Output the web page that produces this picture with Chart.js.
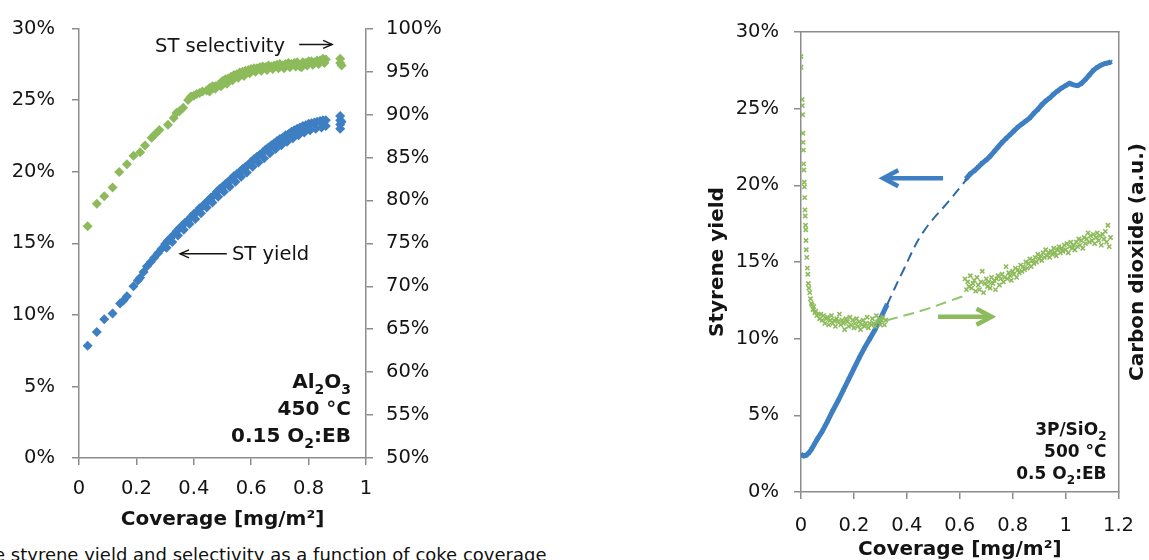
<!DOCTYPE html>
<html>
<head>
<meta charset="utf-8">
<script src="https://cdn.jsdelivr.net/npm/chart.js@4.4.1/dist/chart.umd.min.js"></script>
<style>
  body { margin: 0; background: #fff; width: 1149px; height: 560px; overflow: hidden; position: relative; font-family: 'DejaVu Sans', sans-serif; }
  #chartA { position: absolute; left: 0; top: 0; }
  #chartB { position: absolute; left: 680px; top: 0; }
  #caption { position: absolute; left: -6px; top: 544px; font-size: 18px; color: #111; white-space: nowrap; }
</style>
</head>
<body>
<canvas id="chartA" width="450" height="540"></canvas>
<canvas id="chartB" width="469" height="560"></canvas>
<div id="caption">e styrene yield and selectivity as a function of coke coverage</div>
<script>
// ---- data: Al2O3, 450 °C (coverage mg/m², %)
const yieldAl2O3 = [
  [0.03, 7.85], [0.062, 8.8], [0.088, 9.7], [0.117, 10.1], [0.143, 10.8], [0.155, 11.0], [0.167, 11.3],
  [0.19, 12.0], [0.205, 12.4], [0.213, 12.6], [0.225, 13.0], [0.237, 13.4], [0.25, 13.7], [0.262, 14.0],
  [0.275, 14.3], [0.287, 14.6], [0.30, 14.95], [0.31, 15.2], [0.32, 15.4], [0.33, 15.6], [0.34, 15.85],
  [0.35, 16.05], [0.36, 16.25], [0.37, 16.45], [0.38, 16.6], [0.39, 16.85], [0.40, 17.05], [0.41, 17.2],
  [0.42, 17.45], [0.43, 17.6], [0.44, 17.8], [0.45, 18.0], [0.46, 18.2], [0.47, 18.35], [0.48, 18.6],
  [0.49, 18.8], [0.50, 18.95], [0.51, 19.15], [0.52, 19.3], [0.53, 19.5], [0.54, 19.7], [0.55, 19.85],
  [0.56, 20.0], [0.57, 20.2], [0.58, 20.35], [0.59, 20.5], [0.60, 20.7], [0.61, 20.9], [0.62, 21.05],
  [0.63, 21.2], [0.64, 21.35], [0.65, 21.55], [0.66, 21.7], [0.67, 21.85], [0.68, 22.0], [0.69, 22.15],
  [0.70, 22.3], [0.71, 22.4], [0.72, 22.55], [0.73, 22.65], [0.74, 22.8], [0.75, 22.9], [0.76, 23.0],
  [0.77, 23.1], [0.78, 23.2], [0.79, 23.25], [0.80, 23.35], [0.81, 23.4], [0.82, 23.45], [0.83, 23.5],
  [0.84, 23.55], [0.85, 23.6], [0.86, 23.6], [0.91, 23.9], [0.91, 23.6], [0.91, 23.3], [0.91, 23.0], [0.915, 23.5]
];
// lower edge of the dense yield band
const yieldAl2O3Low = [
  [0.305, 14.7], [0.325, 15.1], [0.345, 15.55], [0.365, 15.95], [0.385, 16.35], [0.405, 16.7], [0.425, 17.1],
  [0.445, 17.5], [0.465, 17.85], [0.485, 18.25], [0.505, 18.6], [0.525, 18.95], [0.545, 19.3], [0.565, 19.65],
  [0.585, 19.95], [0.605, 20.35], [0.625, 20.65], [0.645, 20.95], [0.665, 21.3], [0.685, 21.6], [0.705, 21.85],
  [0.725, 22.1], [0.745, 22.35], [0.765, 22.55], [0.785, 22.75], [0.805, 22.9], [0.825, 23.0], [0.845, 23.1], [0.86, 23.2]
];
const selectAl2O3 = [
  [0.03, 77.0], [0.062, 79.6], [0.088, 80.5], [0.117, 81.5], [0.14, 83.3], [0.167, 84.2], [0.19, 85.2],
  [0.213, 85.6], [0.23, 86.4], [0.253, 87.3], [0.265, 87.7], [0.28, 88.2], [0.31, 88.8], [0.33, 89.6],
  [0.34, 90.2], [0.35, 90.4], [0.363, 90.8], [0.38, 91.7], [0.39, 92.1], [0.40, 92.2], [0.41, 92.4],
  [0.42, 92.5], [0.43, 92.7], [0.445, 92.8], [0.455, 93.1], [0.465, 93.3], [0.475, 93.3], [0.49, 93.6],
  [0.50, 93.9], [0.51, 94.1], [0.52, 94.2], [0.53, 94.4], [0.54, 94.6], [0.55, 94.7], [0.56, 94.9],
  [0.57, 95.0], [0.58, 95.1], [0.59, 95.2], [0.60, 95.3], [0.61, 95.4], [0.62, 95.4], [0.63, 95.5],
  [0.64, 95.6], [0.65, 95.5], [0.66, 95.7], [0.67, 95.6], [0.68, 95.7], [0.69, 95.8], [0.70, 95.9],
  [0.71, 95.7], [0.72, 95.9], [0.73, 96.0], [0.74, 95.9], [0.75, 96.0], [0.76, 96.1], [0.77, 95.6],
  [0.78, 96.1], [0.79, 96.0], [0.80, 96.2], [0.81, 96.2], [0.82, 96.1], [0.83, 96.3], [0.84, 96.3],
  [0.85, 96.5], [0.86, 96.4], [0.91, 96.5], [0.91, 96.0], [0.915, 95.7]
];
// lower edge of the dense selectivity band
const selectAl2O3Low = [
  [0.455, 92.7], [0.475, 93.0], [0.495, 93.3], [0.515, 93.6], [0.535, 94.0], [0.555, 94.3], [0.575, 94.5],
  [0.595, 94.8], [0.615, 95.0], [0.635, 95.1], [0.655, 95.2], [0.675, 95.3], [0.695, 95.4], [0.715, 95.4],
  [0.735, 95.5], [0.755, 95.6], [0.775, 95.5], [0.795, 95.7], [0.815, 95.8], [0.835, 95.9], [0.855, 96.0]
];

// ---- data: 3P/SiO2, 500 °C
const yieldSiO2Early = [
  [0, 2.45], [0.01, 2.35], [0.02, 2.4], [0.03, 2.55], [0.04, 2.8], [0.05, 3.1], [0.06, 3.4], [0.08, 3.95],
  [0.10, 4.6], [0.12, 5.3], [0.14, 5.95], [0.16, 6.65], [0.18, 7.35], [0.20, 8.05], [0.22, 8.75],
  [0.24, 9.4], [0.26, 10.0], [0.28, 10.6], [0.30, 11.3], [0.325, 12.2]
];
const yieldSiO2Gap = [[0.325, 12.2], [0.385, 14.4], [0.46, 16.9], [0.56, 19.0], [0.627, 20.4]];
const yieldSiO2Late = [
  [0.625, 20.45], [0.64, 20.75], [0.655, 20.95], [0.67, 21.2], [0.685, 21.45], [0.70, 21.65], [0.715, 21.9],
  [0.73, 22.2], [0.745, 22.5], [0.76, 22.8], [0.775, 23.05], [0.79, 23.3], [0.805, 23.55], [0.82, 23.8],
  [0.835, 24.0], [0.85, 24.2], [0.865, 24.4], [0.88, 24.7], [0.895, 24.95], [0.91, 25.25], [0.925, 25.5],
  [0.94, 25.7], [0.955, 25.95], [0.97, 26.15], [0.985, 26.35], [1.0, 26.5], [1.015, 26.65], [1.03, 26.55],
  [1.045, 26.5], [1.06, 26.65], [1.075, 26.9], [1.09, 27.2], [1.105, 27.5], [1.12, 27.7], [1.135, 27.85],
  [1.15, 27.95], [1.165, 28.0], [1.17, 28.05]
];
const co2SiO2Early = [
  [0, 28.4], [0, 27.7], [0.004, 25.6], [0.005, 25.2], [0.006, 24.6], [0.007, 23.4], [0.008, 22.8], [0.009, 22.3],
  [0.01, 21.4], [0.011, 21.0], [0.012, 20.2], [0.013, 19.9], [0.014, 19.2], [0.015, 18.4], [0.016, 18.0],
  [0.017, 17.4], [0.018, 17.1], [0.019, 16.4], [0.02, 15.8], [0.022, 15.3], [0.024, 14.6], [0.026, 14.2],
  [0.028, 13.6], [0.03, 13.3], [0.033, 13.0], [0.036, 12.6], [0.039, 12.3], [0.042, 12.2], [0.045, 11.9],
  [0.048, 12.1], [0.052, 11.7], [0.056, 11.8], [0.06, 11.5], [0.065, 11.6], [0.07, 11.3], [0.075, 11.6],
  [0.08, 11.2], [0.085, 11.5], [0.09, 11.0], [0.095, 11.3], [0.1, 11.4], [0.105, 10.9], [0.11, 11.2],
  [0.115, 11.5], [0.12, 11.0], [0.125, 11.2], [0.13, 10.8], [0.135, 11.3], [0.14, 11.1], [0.145, 11.6],
  [0.15, 10.9], [0.155, 11.2], [0.16, 11.0], [0.165, 10.6], [0.17, 11.3], [0.175, 11.1], [0.18, 10.8],
  [0.185, 11.4], [0.19, 10.9], [0.195, 11.2], [0.2, 10.7], [0.205, 11.0], [0.21, 11.3], [0.215, 10.8],
  [0.22, 11.1], [0.225, 10.6], [0.23, 10.9], [0.235, 11.2], [0.24, 10.8], [0.245, 11.0], [0.25, 11.4],
  [0.255, 10.7], [0.26, 11.0], [0.265, 10.9], [0.27, 11.3], [0.275, 11.0], [0.28, 10.8], [0.285, 11.5],
  [0.29, 11.1], [0.295, 11.3], [0.3, 10.9], [0.305, 11.2], [0.31, 11.4], [0.315, 10.9], [0.32, 11.2]
];
const co2SiO2Gap = [[0.325, 11.2], [0.46, 11.85], [0.56, 12.45], [0.627, 12.85]];
const co2SiO2Late = [
  [0.62, 13.9], [0.625, 13.2], [0.63, 13.7], [0.635, 13.4], [0.64, 14.1], [0.645, 13.3], [0.65, 13.6],
  [0.655, 13.8], [0.66, 13.1], [0.665, 14.0], [0.67, 13.5], [0.675, 13.2], [0.68, 13.7], [0.685, 14.4],
  [0.69, 13.0], [0.695, 13.6], [0.70, 13.9], [0.705, 13.4], [0.71, 13.7], [0.715, 13.3], [0.72, 14.0],
  [0.725, 13.6], [0.73, 13.8], [0.735, 13.2], [0.74, 13.9], [0.745, 14.1], [0.75, 13.5], [0.755, 13.9],
  [0.76, 14.2], [0.765, 13.7], [0.77, 14.0], [0.775, 14.7], [0.78, 13.9], [0.785, 14.3], [0.79, 14.1],
  [0.795, 13.8], [0.80, 14.4], [0.805, 14.2], [0.81, 14.6], [0.815, 14.0], [0.82, 14.5], [0.825, 14.3],
  [0.83, 14.8], [0.835, 14.4], [0.84, 14.7], [0.845, 14.5], [0.85, 15.0], [0.855, 14.6], [0.86, 14.9],
  [0.865, 15.2], [0.87, 14.7], [0.875, 15.1], [0.88, 14.9], [0.885, 15.3], [0.89, 15.0], [0.895, 15.5],
  [0.90, 15.2], [0.905, 15.4], [0.91, 15.1], [0.915, 15.6], [0.92, 15.3], [0.925, 15.8], [0.93, 15.4],
  [0.935, 15.6], [0.94, 15.3], [0.945, 15.7], [0.95, 15.5], [0.955, 15.9], [0.96, 15.6], [0.965, 15.4],
  [0.97, 15.8], [0.975, 16.0], [0.98, 15.6], [0.985, 15.9], [0.99, 15.7], [0.995, 16.1], [1.0, 15.8],
  [1.005, 16.2], [1.01, 15.6], [1.015, 16.0], [1.02, 16.3], [1.025, 15.9], [1.03, 16.1], [1.035, 15.8],
  [1.04, 16.3], [1.045, 16.0], [1.05, 16.5], [1.055, 16.1], [1.06, 16.4], [1.065, 15.9], [1.07, 16.6],
  [1.075, 16.2], [1.08, 16.5], [1.085, 16.9], [1.09, 16.3], [1.095, 16.7], [1.10, 16.4], [1.105, 16.8],
  [1.11, 16.2], [1.115, 16.6], [1.12, 16.9], [1.125, 16.4], [1.13, 16.7], [1.135, 16.1], [1.14, 16.8],
  [1.145, 16.5], [1.15, 17.0], [1.155, 16.3], [1.16, 17.4], [1.165, 16.0], [1.17, 16.6]
];

const BLUE = '#3d7fc2';
const GREEN = '#8dbb5b';
const GRAY = '#8c8c8c';
const INK = '#141414';

Chart.defaults.font.family = "'DejaVu Sans', sans-serif";
Chart.defaults.color = INK;

const pts = arr => arr.map(([x, y]) => ({ x, y }));
const pct = v => v + '%';
const plain = v => String(Number(v.toFixed(1)));

// draws text runs with optional subscripts, right aligned at xr
function drawRuns(ctx, runs, xr, y, size) {
  const big = 'bold ' + size + 'px "DejaVu Sans"';
  const small = 'bold ' + Math.round(size * 0.68) + 'px "DejaVu Sans"';
  let w = 0;
  runs.forEach(r => { ctx.font = r.sub ? small : big; w += ctx.measureText(r.t).width; });
  let x = xr - w;
  ctx.textAlign = 'left';
  ctx.textBaseline = 'alphabetic';
  runs.forEach(r => {
    ctx.font = r.sub ? small : big;
    ctx.fillText(r.t, x, r.sub ? y + size * 0.3 : y);
    x += ctx.measureText(r.t).width;
  });
}

function drawArrow(ctx, x1, x2, y, color, width, head, spread) {
  const dir = x2 > x1 ? 1 : -1;
  ctx.save();
  ctx.strokeStyle = color;
  ctx.lineWidth = width;
  ctx.lineCap = 'butt';
  ctx.beginPath();
  ctx.moveTo(x1, y);
  ctx.lineTo(x2, y);
  ctx.stroke();
  ctx.lineJoin = 'miter';
  ctx.beginPath();
  ctx.moveTo(x2 - dir * head, y - spread);
  ctx.lineTo(x2, y);
  ctx.lineTo(x2 - dir * head, y + spread);
  ctx.stroke();
  ctx.restore();
}

const notesPlugin = {
  id: 'notes',
  afterDatasetsDraw(chart, args, opts) {
    const { ctx, chartArea } = chart;
    const sx = chart.scales.x, sy = chart.scales.y;
    ctx.save();
    ctx.fillStyle = INK;
    (opts.texts || []).forEach(t => {
      ctx.font = t.size + 'px "DejaVu Sans"';
      ctx.textAlign = 'left';
      ctx.textBaseline = 'middle';
      ctx.fillText(t.text, sx.getPixelForValue(t.x), sy.getPixelForValue(t.y));
    });
    (opts.arrows || []).forEach(a => {
      drawArrow(ctx, sx.getPixelForValue(a.x1), sx.getPixelForValue(a.x2), sy.getPixelForValue(a.y),
        a.color, a.width, a.head, a.spread);
    });
    ctx.fillStyle = INK;
    (opts.block || []).forEach(line => {
      drawRuns(ctx, line.runs, chartArea.right - opts.blockInset, chartArea.bottom - line.up, opts.blockSize);
    });
    if (opts.rightTitle) {
      ctx.save();
      ctx.translate(chart.width - 11, (chartArea.top + chartArea.bottom) / 2);
      ctx.rotate(-Math.PI / 2);
      ctx.font = 'bold 20px "DejaVu Sans"';
      ctx.textAlign = 'center';
      ctx.textBaseline = 'middle';
      ctx.fillText(opts.rightTitle, 0, 0);
      ctx.restore();
    }
    ctx.restore();
  }
};

function axisGrid(ticks) {
  return { drawOnChartArea: false, drawTicks: ticks, tickLength: 7, color: GRAY, lineWidth: 1.5 };
}
const border = { display: true, color: GRAY, width: 1.5 };
const tickFont = { size: 19.5 };
const titleFont = { size: 20, weight: 'bold' };

function diamonds(data, axis, color) {
  return { data: pts(data), yAxisID: axis, pointStyle: 'rectRot', pointRadius: 5,
    pointBorderWidth: 0, backgroundColor: color, borderColor: color };
}

// ---- left chart
new Chart(document.getElementById('chartA'), {
  type: 'scatter',
  data: {
    datasets: [
      diamonds(selectAl2O3, 'y2', GREEN),
      diamonds(selectAl2O3Low, 'y2', GREEN),
      diamonds(yieldAl2O3, 'y', BLUE),
      diamonds(yieldAl2O3Low, 'y', BLUE)
    ]
  },
  options: {
    responsive: false,
    animation: false,
    layout: { padding: { top: 25, left: 0, right: 0, bottom: 0 } },
    plugins: {
      legend: { display: false },
      tooltip: { enabled: false },
      notes: {
        texts: [
          { text: 'ST selectivity', x: 0.265, y: 28.75, size: 19.5 },
          { text: 'ST yield', x: 0.533, y: 14.2, size: 19.5 }
        ],
        arrows: [
          { x1: 0.767, x2: 0.882, y: 28.9, color: INK, width: 1.4, head: 9, spread: 4 },
          { x1: 0.515, x2: 0.352, y: 14.27, color: INK, width: 1.4, head: 9, spread: 4 }
        ],
        blockInset: 15,
        blockSize: 20,
        block: [
          { up: 70, runs: [{ t: 'Al' }, { t: '2', sub: true }, { t: 'O' }, { t: '3', sub: true }] },
          { up: 43, runs: [{ t: '450 °C' }] },
          { up: 16, runs: [{ t: '0.15 O' }, { t: '2', sub: true }, { t: ':EB' }] }
        ]
      }
    },
    scales: {
      x: {
        type: 'linear', position: 'bottom', min: 0, max: 1,
        ticks: { stepSize: 0.2, callback: plain, font: tickFont, color: INK, padding: 12, maxRotation: 0 },
        grid: axisGrid(true), border,
        title: { display: true, text: 'Coverage [mg/m²]', font: titleFont, color: INK, padding: { top: 0, bottom: 8 } },
        afterFit: s => { s.height = 82; }
      },
      y: {
        position: 'left', min: 0, max: 30,
        ticks: { stepSize: 5, callback: pct, font: tickFont, color: INK, padding: 17 },
        grid: axisGrid(true), border,
        afterFit: s => { s.width = 79; }
      },
      y2: {
        position: 'right', min: 50, max: 100,
        ticks: { stepSize: 5, callback: pct, font: tickFont, color: INK, padding: 13 },
        grid: axisGrid(true), border,
        afterFit: s => { s.width = 84; }
      }
    }
  },
  plugins: [notesPlugin]
});

// ---- right chart
new Chart(document.getElementById('chartB'), {
  type: 'scatter',
  data: {
    datasets: [
      { label: 'CO2 gap', data: pts(co2SiO2Gap), yAxisID: 'y2', showLine: true, pointRadius: 0,
        borderColor: '#93c66a', borderWidth: 2, borderDash: [11, 6], tension: 0.4 },
      { label: 'CO2', data: pts(co2SiO2Early), yAxisID: 'y2', pointStyle: 'crossRot',
        pointRadius: 3, pointBorderWidth: 1.6, borderColor: GREEN, backgroundColor: GREEN },
      { label: 'CO2 late', data: pts(co2SiO2Late), yAxisID: 'y2', pointStyle: 'crossRot',
        pointRadius: 3, pointBorderWidth: 1.6, borderColor: GREEN, backgroundColor: GREEN },
      { label: 'yield gap', data: pts(yieldSiO2Gap), yAxisID: 'y', showLine: true, pointRadius: 0,
        borderColor: '#2f69a6', borderWidth: 2, borderDash: [10, 6], tension: 0.4 },
      { label: 'Styrene yield', data: pts(yieldSiO2Early), yAxisID: 'y', showLine: true, borderWidth: 5,
        pointStyle: 'crossRot', pointRadius: 2.5, pointBorderWidth: 1.5, borderColor: BLUE, backgroundColor: BLUE },
      { label: 'Styrene yield late', data: pts(yieldSiO2Late), yAxisID: 'y', showLine: true, borderWidth: 5,
        pointStyle: 'crossRot', pointRadius: 2.5, pointBorderWidth: 1.5, borderColor: BLUE, backgroundColor: BLUE }
    ]
  },
  options: {
    responsive: false,
    animation: false,
    layout: { padding: { top: 32, left: 0, right: 0, bottom: 0 } },
    plugins: {
      legend: { display: false },
      tooltip: { enabled: false },
      notes: {
        arrows: [
          { x1: 0.537, x2: 0.311, y: 20.46, color: BLUE, width: 4.5, head: 15, spread: 8 },
          { x1: 0.518, x2: 0.72, y: 11.43, color: GREEN, width: 4.5, head: 15, spread: 8 }
        ],
        blockInset: 12,
        blockSize: 17,
        block: [
          { up: 57, runs: [{ t: '3P/SiO' }, { t: '2', sub: true }] },
          { up: 35, runs: [{ t: '500 °C' }] },
          { up: 13, runs: [{ t: '0.5 O' }, { t: '2', sub: true }, { t: ':EB' }] }
        ],
        rightTitle: 'Carbon dioxide (a.u.)'
      }
    },
    scales: {
      x: {
        type: 'linear', position: 'bottom', min: 0, max: 1.2,
        ticks: { stepSize: 0.2, callback: plain, font: tickFont, color: INK, padding: 15, maxRotation: 0 },
        grid: axisGrid(true), border,
        title: { display: true, text: 'Coverage [mg/m²]', font: titleFont, color: INK, padding: { top: 0, bottom: -2 } },
        afterFit: s => { s.height = 68; }
      },
      x2: {
        type: 'linear', position: 'top', min: 0, max: 1.2,
        ticks: { display: false }, grid: axisGrid(false), border,
        afterFit: s => { s.height = 0; }
      },
      y: {
        position: 'left', min: 0, max: 30,
        ticks: { stepSize: 5, callback: pct, font: tickFont, color: INK, padding: 15 },
        grid: axisGrid(true), border,
        title: { display: true, text: 'Styrene yield', font: titleFont, color: INK, padding: { top: 26, bottom: 0 } },
        afterFit: s => { s.width = 121; }
      },
      y2: {
        position: 'right', min: 0, max: 30,
        ticks: { display: false }, grid: axisGrid(false), border,
        afterFit: s => { s.width = 30; }
      }
    }
  },
  plugins: [notesPlugin]
});
</script>
</body>
</html>
